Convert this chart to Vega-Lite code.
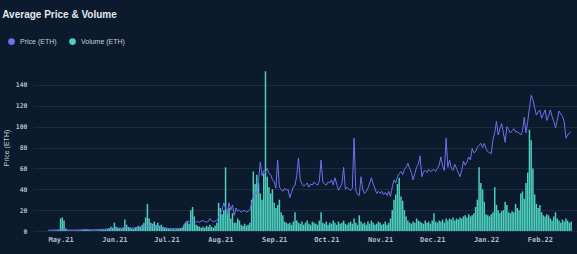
{
"$schema": "https://vega.github.io/schema/vega-lite/v6.json",
"width": 544, "height": 167,
"autosize": {"type": "none"},
"padding": {"left": 33, "top": 64, "right": 0, "bottom": 23},
"background": "#0b1a2c",
"title": {"text": "Average Price & Volume", "anchor": "start", "frame": "bounds", "font": "Liberation Sans", "fontSize": 10, "fontWeight": "bold", "color": "#e4e8ee", "offset": 18},
"config": {"view": {"stroke": null}},
"data": {"values": [
{"d":"2021-04-24","p":0.8,"v":0.3},{"d":"2021-04-25","p":0.8,"v":0.4},{"d":"2021-04-26","p":0.9,"v":0.3},{"d":"2021-04-27","p":0.9,"v":0.5},{"d":"2021-04-28","p":1.0,"v":0.4},{"d":"2021-04-29","p":0.9,"v":0.6},{"d":"2021-04-30","p":1.0,"v":1.2},
{"d":"2021-05-01","p":1.2,"v":12},{"d":"2021-05-02","p":1.3,"v":13},{"d":"2021-05-03","p":1.2,"v":10},{"d":"2021-05-04","p":1.1,"v":2.5},{"d":"2021-05-05","p":1.0,"v":0.8},{"d":"2021-05-06","p":1.0,"v":0.5},{"d":"2021-05-07","p":0.9,"v":0.4},{"d":"2021-05-08","p":0.9,"v":0.3},{"d":"2021-05-09","p":0.9,"v":0.4},{"d":"2021-05-10","p":1.0,"v":0.5},{"d":"2021-05-11","p":1.0,"v":0.4},{"d":"2021-05-12","p":1.0,"v":0.6},{"d":"2021-05-13","p":1.1,"v":0.8},{"d":"2021-05-14","p":1.1,"v":1.5},{"d":"2021-05-15","p":1.2,"v":1.2},{"d":"2021-05-16","p":1.2,"v":1.6},{"d":"2021-05-17","p":1.1,"v":1.0},{"d":"2021-05-18","p":1.1,"v":0.6},{"d":"2021-05-19","p":1.2,"v":0.8},{"d":"2021-05-20","p":1.2,"v":0.5},{"d":"2021-05-21","p":1.3,"v":0.6},{"d":"2021-05-22","p":1.3,"v":0.7},{"d":"2021-05-23","p":1.4,"v":0.8},{"d":"2021-05-24","p":1.5,"v":1.0},{"d":"2021-05-25","p":1.6,"v":1.2},{"d":"2021-05-26","p":1.7,"v":1.0},{"d":"2021-05-27","p":1.8,"v":1.4},{"d":"2021-05-28","p":2.0,"v":1.8},{"d":"2021-05-29","p":2.2,"v":2.5},{"d":"2021-05-30","p":2.5,"v":4},{"d":"2021-05-31","p":2.6,"v":3},
{"d":"2021-06-01","p":2.8,"v":8},{"d":"2021-06-02","p":2.9,"v":4},{"d":"2021-06-03","p":2.8,"v":3},{"d":"2021-06-04","p":2.6,"v":2.5},{"d":"2021-06-05","p":2.7,"v":2},{"d":"2021-06-06","p":3.0,"v":3},{"d":"2021-06-07","p":3.4,"v":11},{"d":"2021-06-08","p":3.5,"v":6},{"d":"2021-06-09","p":3.2,"v":4},{"d":"2021-06-10","p":3.0,"v":3},{"d":"2021-06-11","p":2.9,"v":2.5},{"d":"2021-06-12","p":3.0,"v":2},{"d":"2021-06-13","p":3.1,"v":3},{"d":"2021-06-14","p":3.3,"v":4},{"d":"2021-06-15","p":3.4,"v":5},{"d":"2021-06-16","p":3.6,"v":4},{"d":"2021-06-17","p":3.9,"v":6},{"d":"2021-06-18","p":4.2,"v":8},{"d":"2021-06-19","p":4.6,"v":13},{"d":"2021-06-20","p":5.0,"v":26},{"d":"2021-06-21","p":4.8,"v":12},{"d":"2021-06-22","p":4.5,"v":8},{"d":"2021-06-23","p":4.4,"v":7},{"d":"2021-06-24","p":4.2,"v":9},{"d":"2021-06-25","p":4.0,"v":6},{"d":"2021-06-26","p":3.8,"v":8},{"d":"2021-06-27","p":3.6,"v":5},{"d":"2021-06-28","p":3.4,"v":6},{"d":"2021-06-29","p":3.2,"v":4},{"d":"2021-06-30","p":3.0,"v":3},
{"d":"2021-07-01","p":2.8,"v":2.5},{"d":"2021-07-02","p":2.6,"v":2},{"d":"2021-07-03","p":2.5,"v":2},{"d":"2021-07-04","p":2.4,"v":1.5},{"d":"2021-07-05","p":2.3,"v":2},{"d":"2021-07-06","p":2.2,"v":1.5},{"d":"2021-07-07","p":2.2,"v":1.8},{"d":"2021-07-08","p":2.3,"v":2},{"d":"2021-07-09","p":2.4,"v":2.5},{"d":"2021-07-10","p":2.6,"v":3},{"d":"2021-07-11","p":4.5,"v":6},{"d":"2021-07-12","p":8.5,"v":8},{"d":"2021-07-13","p":9.5,"v":9},{"d":"2021-07-14","p":9.0,"v":7},{"d":"2021-07-15","p":9.5,"v":20},{"d":"2021-07-16","p":10,"v":23},{"d":"2021-07-17","p":9.0,"v":14},{"d":"2021-07-18","p":8.5,"v":6},{"d":"2021-07-19","p":9.0,"v":5},{"d":"2021-07-20","p":8.5,"v":4},{"d":"2021-07-21","p":9.5,"v":3},{"d":"2021-07-22","p":10,"v":4},{"d":"2021-07-23","p":9,"v":3},{"d":"2021-07-24","p":8.5,"v":5},{"d":"2021-07-25","p":9,"v":4},{"d":"2021-07-26","p":12,"v":6},{"d":"2021-07-27","p":10,"v":4},{"d":"2021-07-28","p":9,"v":3},{"d":"2021-07-29","p":9.5,"v":5},{"d":"2021-07-30","p":10,"v":8},{"d":"2021-07-31","p":13,"v":27},
{"d":"2021-08-01","p":17,"v":22},{"d":"2021-08-02","p":20,"v":16},{"d":"2021-08-03","p":27,"v":20},{"d":"2021-08-04","p":22,"v":61},{"d":"2021-08-05","p":17,"v":17},{"d":"2021-08-06","p":27,"v":22},{"d":"2021-08-07","p":20,"v":12},{"d":"2021-08-08","p":25,"v":17},{"d":"2021-08-09","p":15,"v":8},{"d":"2021-08-10","p":22,"v":8},{"d":"2021-08-11","p":19,"v":12},{"d":"2021-08-12","p":20,"v":10},{"d":"2021-08-13","p":18,"v":6},{"d":"2021-08-14","p":19,"v":5},{"d":"2021-08-15","p":20,"v":7},{"d":"2021-08-16","p":18,"v":5},{"d":"2021-08-17","p":19,"v":6},{"d":"2021-08-18","p":20,"v":8},{"d":"2021-08-19","p":26,"v":30},{"d":"2021-08-20","p":33,"v":57},{"d":"2021-08-21","p":37,"v":45},{"d":"2021-08-22","p":36,"v":54},{"d":"2021-08-23","p":48,"v":46},{"d":"2021-08-24","p":66,"v":36},{"d":"2021-08-25","p":53,"v":30},{"d":"2021-08-26","p":58,"v":55},{"d":"2021-08-27","p":57,"v":153},{"d":"2021-08-28","p":60,"v":52},{"d":"2021-08-29","p":55,"v":42},{"d":"2021-08-30","p":54,"v":36},{"d":"2021-08-31","p":49,"v":40},
{"d":"2021-09-01","p":47,"v":27},{"d":"2021-09-02","p":41,"v":22},{"d":"2021-09-03","p":68,"v":25},{"d":"2021-09-04","p":42,"v":30},{"d":"2021-09-05","p":40,"v":18},{"d":"2021-09-06","p":38,"v":15},{"d":"2021-09-07","p":41,"v":9},{"d":"2021-09-08","p":39,"v":8},{"d":"2021-09-09","p":40,"v":7},{"d":"2021-09-10","p":32,"v":8},{"d":"2021-09-11","p":37,"v":6},{"d":"2021-09-12","p":42,"v":9},{"d":"2021-09-13","p":44,"v":18},{"d":"2021-09-14","p":53,"v":10},{"d":"2021-09-15","p":70,"v":8},{"d":"2021-09-16","p":49,"v":7},{"d":"2021-09-17","p":45,"v":9},{"d":"2021-09-18","p":43,"v":6},{"d":"2021-09-19","p":44,"v":8},{"d":"2021-09-20","p":46,"v":10},{"d":"2021-09-21","p":42,"v":7},{"d":"2021-09-22","p":45,"v":6},{"d":"2021-09-23","p":44,"v":9},{"d":"2021-09-24","p":47,"v":8},{"d":"2021-09-25","p":45,"v":7},{"d":"2021-09-26","p":44,"v":6},{"d":"2021-09-27","p":48,"v":10},{"d":"2021-09-28","p":68,"v":18},{"d":"2021-09-29","p":47,"v":8},{"d":"2021-09-30","p":45,"v":7},
{"d":"2021-10-01","p":44,"v":9},{"d":"2021-10-02","p":47,"v":6},{"d":"2021-10-03","p":46,"v":8},{"d":"2021-10-04","p":49,"v":7},{"d":"2021-10-05","p":44,"v":10},{"d":"2021-10-06","p":51,"v":8},{"d":"2021-10-07","p":45,"v":6},{"d":"2021-10-08","p":39,"v":9},{"d":"2021-10-09","p":42,"v":7},{"d":"2021-10-10","p":45,"v":8},{"d":"2021-10-11","p":61,"v":10},{"d":"2021-10-12","p":40,"v":7},{"d":"2021-10-13","p":42,"v":6},{"d":"2021-10-14","p":40,"v":8},{"d":"2021-10-15","p":39,"v":9},{"d":"2021-10-16","p":41,"v":7},{"d":"2021-10-17","p":89,"v":12},{"d":"2021-10-18","p":39,"v":8},{"d":"2021-10-19","p":35,"v":6},{"d":"2021-10-20","p":34,"v":15},{"d":"2021-10-21","p":52,"v":9},{"d":"2021-10-22","p":40,"v":7},{"d":"2021-10-23","p":36,"v":8},{"d":"2021-10-24","p":38,"v":6},{"d":"2021-10-25","p":41,"v":9},{"d":"2021-10-26","p":46,"v":7},{"d":"2021-10-27","p":51,"v":10},{"d":"2021-10-28","p":45,"v":8},{"d":"2021-10-29","p":41,"v":6},{"d":"2021-10-30","p":36,"v":7},{"d":"2021-10-31","p":38,"v":9},
{"d":"2021-11-01","p":36,"v":8},{"d":"2021-11-02","p":38,"v":6},{"d":"2021-11-03","p":35,"v":7},{"d":"2021-11-04","p":37,"v":9},{"d":"2021-11-05","p":34,"v":6},{"d":"2021-11-06","p":38,"v":8},{"d":"2021-11-07","p":33,"v":12},{"d":"2021-11-08","p":42,"v":20},{"d":"2021-11-09","p":49,"v":30},{"d":"2021-11-10","p":46,"v":35},{"d":"2021-11-11","p":52,"v":45},{"d":"2021-11-12","p":55,"v":51},{"d":"2021-11-13","p":57,"v":33},{"d":"2021-11-14","p":54,"v":29},{"d":"2021-11-15","p":59,"v":20},{"d":"2021-11-16","p":61,"v":14},{"d":"2021-11-17","p":65,"v":10},{"d":"2021-11-18","p":60,"v":8},{"d":"2021-11-19","p":56,"v":7},{"d":"2021-11-20","p":49,"v":9},{"d":"2021-11-21","p":55,"v":8},{"d":"2021-11-22","p":61,"v":12},{"d":"2021-11-23","p":64,"v":10},{"d":"2021-11-24","p":72,"v":9},{"d":"2021-11-25","p":52,"v":8},{"d":"2021-11-26","p":57,"v":7},{"d":"2021-11-27","p":58,"v":10},{"d":"2021-11-28","p":56,"v":8},{"d":"2021-11-29","p":59,"v":9},{"d":"2021-11-30","p":57,"v":7},
{"d":"2021-12-01","p":58,"v":10},{"d":"2021-12-02","p":59,"v":17},{"d":"2021-12-03","p":57,"v":9},{"d":"2021-12-04","p":60,"v":8},{"d":"2021-12-05","p":63,"v":10},{"d":"2021-12-06","p":71,"v":9},{"d":"2021-12-07","p":62,"v":11},{"d":"2021-12-08","p":58,"v":8},{"d":"2021-12-09","p":89,"v":12},{"d":"2021-12-10","p":61,"v":10},{"d":"2021-12-11","p":68,"v":12},{"d":"2021-12-12","p":60,"v":11},{"d":"2021-12-13","p":58,"v":13},{"d":"2021-12-14","p":64,"v":10},{"d":"2021-12-15","p":60,"v":12},{"d":"2021-12-16","p":56,"v":11},{"d":"2021-12-17","p":52,"v":13},{"d":"2021-12-18","p":58,"v":12},{"d":"2021-12-19","p":67,"v":14},{"d":"2021-12-20","p":63,"v":15},{"d":"2021-12-21","p":66,"v":13},{"d":"2021-12-22","p":71,"v":16},{"d":"2021-12-23","p":68,"v":14},{"d":"2021-12-24","p":79,"v":15},{"d":"2021-12-25","p":75,"v":17},{"d":"2021-12-26","p":76,"v":23},{"d":"2021-12-27","p":80,"v":30},{"d":"2021-12-28","p":82,"v":61},{"d":"2021-12-29","p":84,"v":46},{"d":"2021-12-30","p":80,"v":40},{"d":"2021-12-31","p":84,"v":28},
{"d":"2022-01-01","p":79,"v":16},{"d":"2022-01-02","p":76,"v":15},{"d":"2022-01-03","p":75,"v":14},{"d":"2022-01-04","p":74,"v":16},{"d":"2022-01-05","p":88,"v":18},{"d":"2022-01-06","p":94,"v":42},{"d":"2022-01-07","p":105,"v":25},{"d":"2022-01-08","p":92,"v":20},{"d":"2022-01-09","p":98,"v":17},{"d":"2022-01-10","p":103,"v":19},{"d":"2022-01-11","p":94,"v":20},{"d":"2022-01-12","p":85,"v":28},{"d":"2022-01-13","p":100,"v":25},{"d":"2022-01-14","p":97,"v":18},{"d":"2022-01-15","p":94,"v":17},{"d":"2022-01-16","p":96,"v":19},{"d":"2022-01-17","p":98,"v":18},{"d":"2022-01-18","p":95,"v":26},{"d":"2022-01-19","p":95,"v":22},{"d":"2022-01-20","p":94,"v":20},{"d":"2022-01-21","p":92,"v":36},{"d":"2022-01-22","p":96,"v":38},{"d":"2022-01-23","p":109,"v":31},{"d":"2022-01-24","p":94,"v":46},{"d":"2022-01-25","p":105,"v":56},{"d":"2022-01-26","p":118,"v":97},{"d":"2022-01-27","p":130,"v":87},{"d":"2022-01-28","p":126,"v":60},{"d":"2022-01-29","p":118,"v":35},{"d":"2022-01-30","p":111,"v":26},{"d":"2022-01-31","p":114,"v":22},
{"d":"2022-02-01","p":116,"v":25},{"d":"2022-02-02","p":108,"v":18},{"d":"2022-02-03","p":112,"v":15},{"d":"2022-02-04","p":116,"v":14},{"d":"2022-02-05","p":106,"v":16},{"d":"2022-02-06","p":110,"v":15},{"d":"2022-02-07","p":116,"v":12},{"d":"2022-02-08","p":110,"v":10},{"d":"2022-02-09","p":105,"v":14},{"d":"2022-02-10","p":99,"v":18},{"d":"2022-02-11","p":106,"v":12},{"d":"2022-02-12","p":115,"v":10},{"d":"2022-02-13","p":112,"v":8},{"d":"2022-02-14","p":110,"v":11},{"d":"2022-02-15","p":105,"v":9},{"d":"2022-02-16","p":89,"v":12},{"d":"2022-02-17","p":92,"v":10},{"d":"2022-02-18","p":94,"v":8},{"d":"2022-02-19","p":95,"v":9}
]},
"encoding": {
  "x": {"field": "d", "type": "temporal",
    "scale": {"type": "utc", "domain": [{"year": 2021, "month": 4, "date": 18, "utc": true}, {"year": 2022, "month": 2, "date": 19, "hours": 12, "utc": true}]},
    "axis": {"title": null, "labelExpr": "utcFormat(datum.value, '%b.%y')", "grid": false, "domain": false, "ticks": false, "labelPadding": 4, "labelOverlap": false,
      "values": [{"year":2021,"month":5,"date":1,"utc":true},{"year":2021,"month":6,"date":1,"utc":true},{"year":2021,"month":7,"date":1,"utc":true},{"year":2021,"month":8,"date":1,"utc":true},{"year":2021,"month":9,"date":1,"utc":true},{"year":2021,"month":10,"date":1,"utc":true},{"year":2021,"month":11,"date":1,"utc":true},{"year":2021,"month":12,"date":1,"utc":true},{"year":2022,"month":1,"date":1,"utc":true},{"year":2022,"month":2,"date":1,"utc":true}],
      "labelFont": "DejaVu Sans Mono", "labelFontSize": 7, "labelFontWeight": "bold", "labelColor": "#b4bcc8"}}
},
"layer": [
  {"mark": {"type": "bar", "width": 1.5},
   "encoding": {
     "y": {"field": "v", "type": "quantitative", "scale": {"domain": [0, 160], "nice": false},
       "axis": {"title": "Price (ETH)", "values": [0,20,40,60,80,100,120,140], "domain": false, "ticks": false, "labelPadding": 6, "labelOverlap": false,
         "gridColor": "#1c2b3e", "gridWidth": 1, "labelFont": "DejaVu Sans Mono", "labelFontSize": 6.5, "labelFontWeight": "bold", "labelColor": "#b4bcc8",
         "titleFont": "Liberation Sans", "titleFontSize": 7, "titleFontWeight": "normal", "titleColor": "#c8cfd8", "titlePadding": 6}},
     "color": {"datum": "Volume (ETH)", "type": "nominal",
       "scale": {"domain": ["Price (ETH)", "Volume (ETH)"], "range": ["#6e72f0", "#4ccfbf"]},
       "legend": {"title": null, "orient": "none", "legendX": -25, "legendY": -26, "direction": "horizontal",
         "symbolType": "circle", "symbolSize": 45, "symbolStrokeWidth": 0, "labelFont": "Liberation Sans", "labelFontSize": 7, "labelColor": "#c8cfd8", "columnPadding": 12, "labelOffset": 5}}
   }},
  {"mark": {"type": "line", "strokeWidth": 1},
   "encoding": {
     "y": {"field": "p", "type": "quantitative",
       "axis": {"title": "Price (ETH)", "values": [0,20,40,60,80,100,120,140], "domain": false, "ticks": false, "labelPadding": 6, "labelOverlap": false,
         "gridColor": "#1c2b3e", "gridWidth": 1, "labelFont": "DejaVu Sans Mono", "labelFontSize": 6.5, "labelFontWeight": "bold", "labelColor": "#b4bcc8",
         "titleFont": "Liberation Sans", "titleFontSize": 7, "titleFontWeight": "normal", "titleColor": "#c8cfd8", "titlePadding": 6}},
     "color": {"datum": "Price (ETH)", "type": "nominal"}
   }}
]
}
